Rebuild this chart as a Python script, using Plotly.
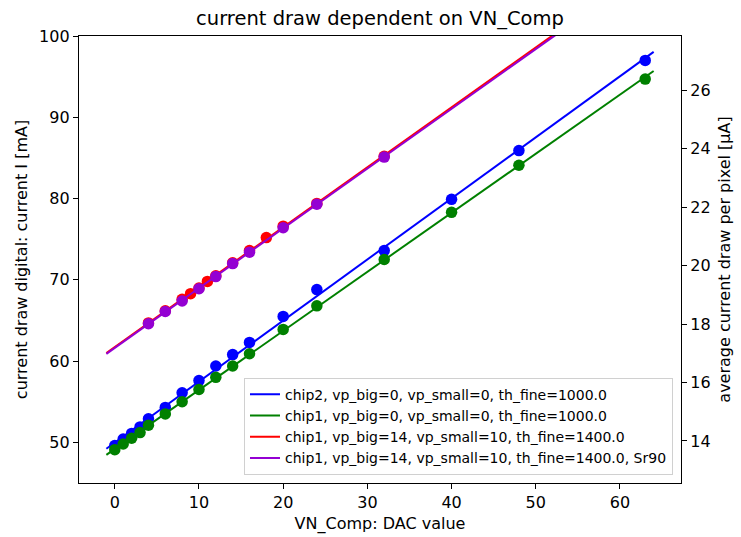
import numpy as np
import plotly.graph_objects as go

# ---- data ----
x_chip2 = [0, 1, 2, 3, 4, 6, 8, 10, 12, 14, 16, 20, 24, 32, 40, 48, 63]
I_chip2 = [49.6, 50.4, 51.1, 51.9, 52.9, 54.3, 56.1, 57.6, 59.4, 60.8, 62.3, 65.5, 68.8, 73.6, 79.9, 85.9, 97.0]

x_chip1 = [0, 1, 2, 3, 4, 6, 8, 10, 12, 14, 16, 20, 24, 32, 40, 48, 63]
I_chip1 = [49.1, 49.8, 50.5, 51.2, 52.1, 53.5, 55.0, 56.5, 58.0, 59.4, 60.9, 63.9, 66.8, 72.5, 78.3, 84.1, 94.7]

x_chip1_hi = [4, 6, 8, 9, 10, 11, 12, 14, 16, 18, 20, 24, 32]
I_chip1_hi = [64.7, 66.2, 67.6, 68.3, 69.0, 69.8, 70.5, 72.1, 73.6, 75.2, 76.6, 79.4, 85.2]

x_chip1_sr = [4, 6, 8, 10, 12, 14, 16, 20, 24, 32]
I_chip1_sr = [64.6, 66.1, 67.4, 68.9, 70.4, 72.0, 73.4, 76.4, 79.3, 85.1]

labels = [
    "chip2, vp_big=0, vp_small=0, th_fine=1000.0",
    "chip1, vp_big=0, vp_small=0, th_fine=1000.0",
    "chip1, vp_big=14, vp_small=10, th_fine=1400.0",
    "chip1, vp_big=14, vp_small=10, th_fine=1400.0, Sr90",
]
colors = ["#0000ff", "#008000", "#ff0000", "#9400d3"]
fit_x = [-1, 64]

series = [(x_chip2, I_chip2), (x_chip1, I_chip1), (x_chip1_hi, I_chip1_hi), (x_chip1_sr, I_chip1_sr)]

FONT = "DejaVu Sans"
fig = go.Figure()

for (xs, ys), lab, col in zip(series, labels, colors):
    fig.add_trace(go.Scatter(x=xs, y=ys, mode="markers",
                             marker=dict(color=col, size=11.5, line=dict(width=0)),
                             showlegend=False, hoverinfo="skip"))
    k, d = np.polyfit(xs, ys, 1)
    fx = np.array(fit_x, dtype=float)
    fig.add_trace(go.Scatter(x=fx, y=k * fx + d, mode="lines",
                             line=dict(color=col, width=2), name=lab))

# invisible trace to activate the secondary axis
fig.add_trace(go.Scatter(x=[None], y=[None], yaxis="y2", showlegend=False, hoverinfo="skip"))

axis_common = dict(showline=True, linecolor="black", linewidth=1.3, ticks="outside",
                   ticklen=5, tickwidth=1.2, tickcolor="black", showgrid=False,
                   zeroline=False, tickfont=dict(family=FONT, size=16, color="black"))

fig.update_layout(
    width=741, height=537,
    paper_bgcolor="white", plot_bgcolor="white",
    margin=dict(l=79, r=60, t=35.5, b=53.7, autoexpand=False),
    font=dict(family=FONT, color="black"),
    title=dict(text="current draw dependent on VN_Comp", x=0.5, xref="paper",
               y=1 - 18 / 537, yref="container", yanchor="middle", xanchor="center",
               font=dict(family=FONT, size=19.5, color="black")),
    xaxis=dict(range=[-4.25, 67.25], tickvals=[0, 10, 20, 30, 40, 50, 60], mirror=True,
               title=dict(text="VN_Comp: DAC value", standoff=6,
                          font=dict(family=FONT, size=16, color="black")),
               **axis_common),
    yaxis=dict(range=[45, 100], tickvals=[50, 60, 70, 80, 90, 100],
               title=dict(text="current draw digital: current I [mA]", standoff=7,
                          font=dict(family=FONT, size=16, color="black")),
               **axis_common),
    yaxis2=dict(range=[12.56, 27.86], tickvals=[14, 16, 18, 20, 22, 24, 26], overlaying="y",
                side="right", anchor="x",
                title=dict(text="average current draw per pixel [µA]", standoff=9,
                           font=dict(family=FONT, size=16, color="black")),
                **axis_common),
    legend=dict(x=0.9867, y=0.0185, xanchor="right", yanchor="bottom",
                bgcolor="rgba(255,255,255,0.8)", bordercolor="#d0d0d0", borderwidth=1,
                font=dict(family=FONT, size=14, color="black"), tracegroupgap=0),
)

fig.write_html("out.html")
